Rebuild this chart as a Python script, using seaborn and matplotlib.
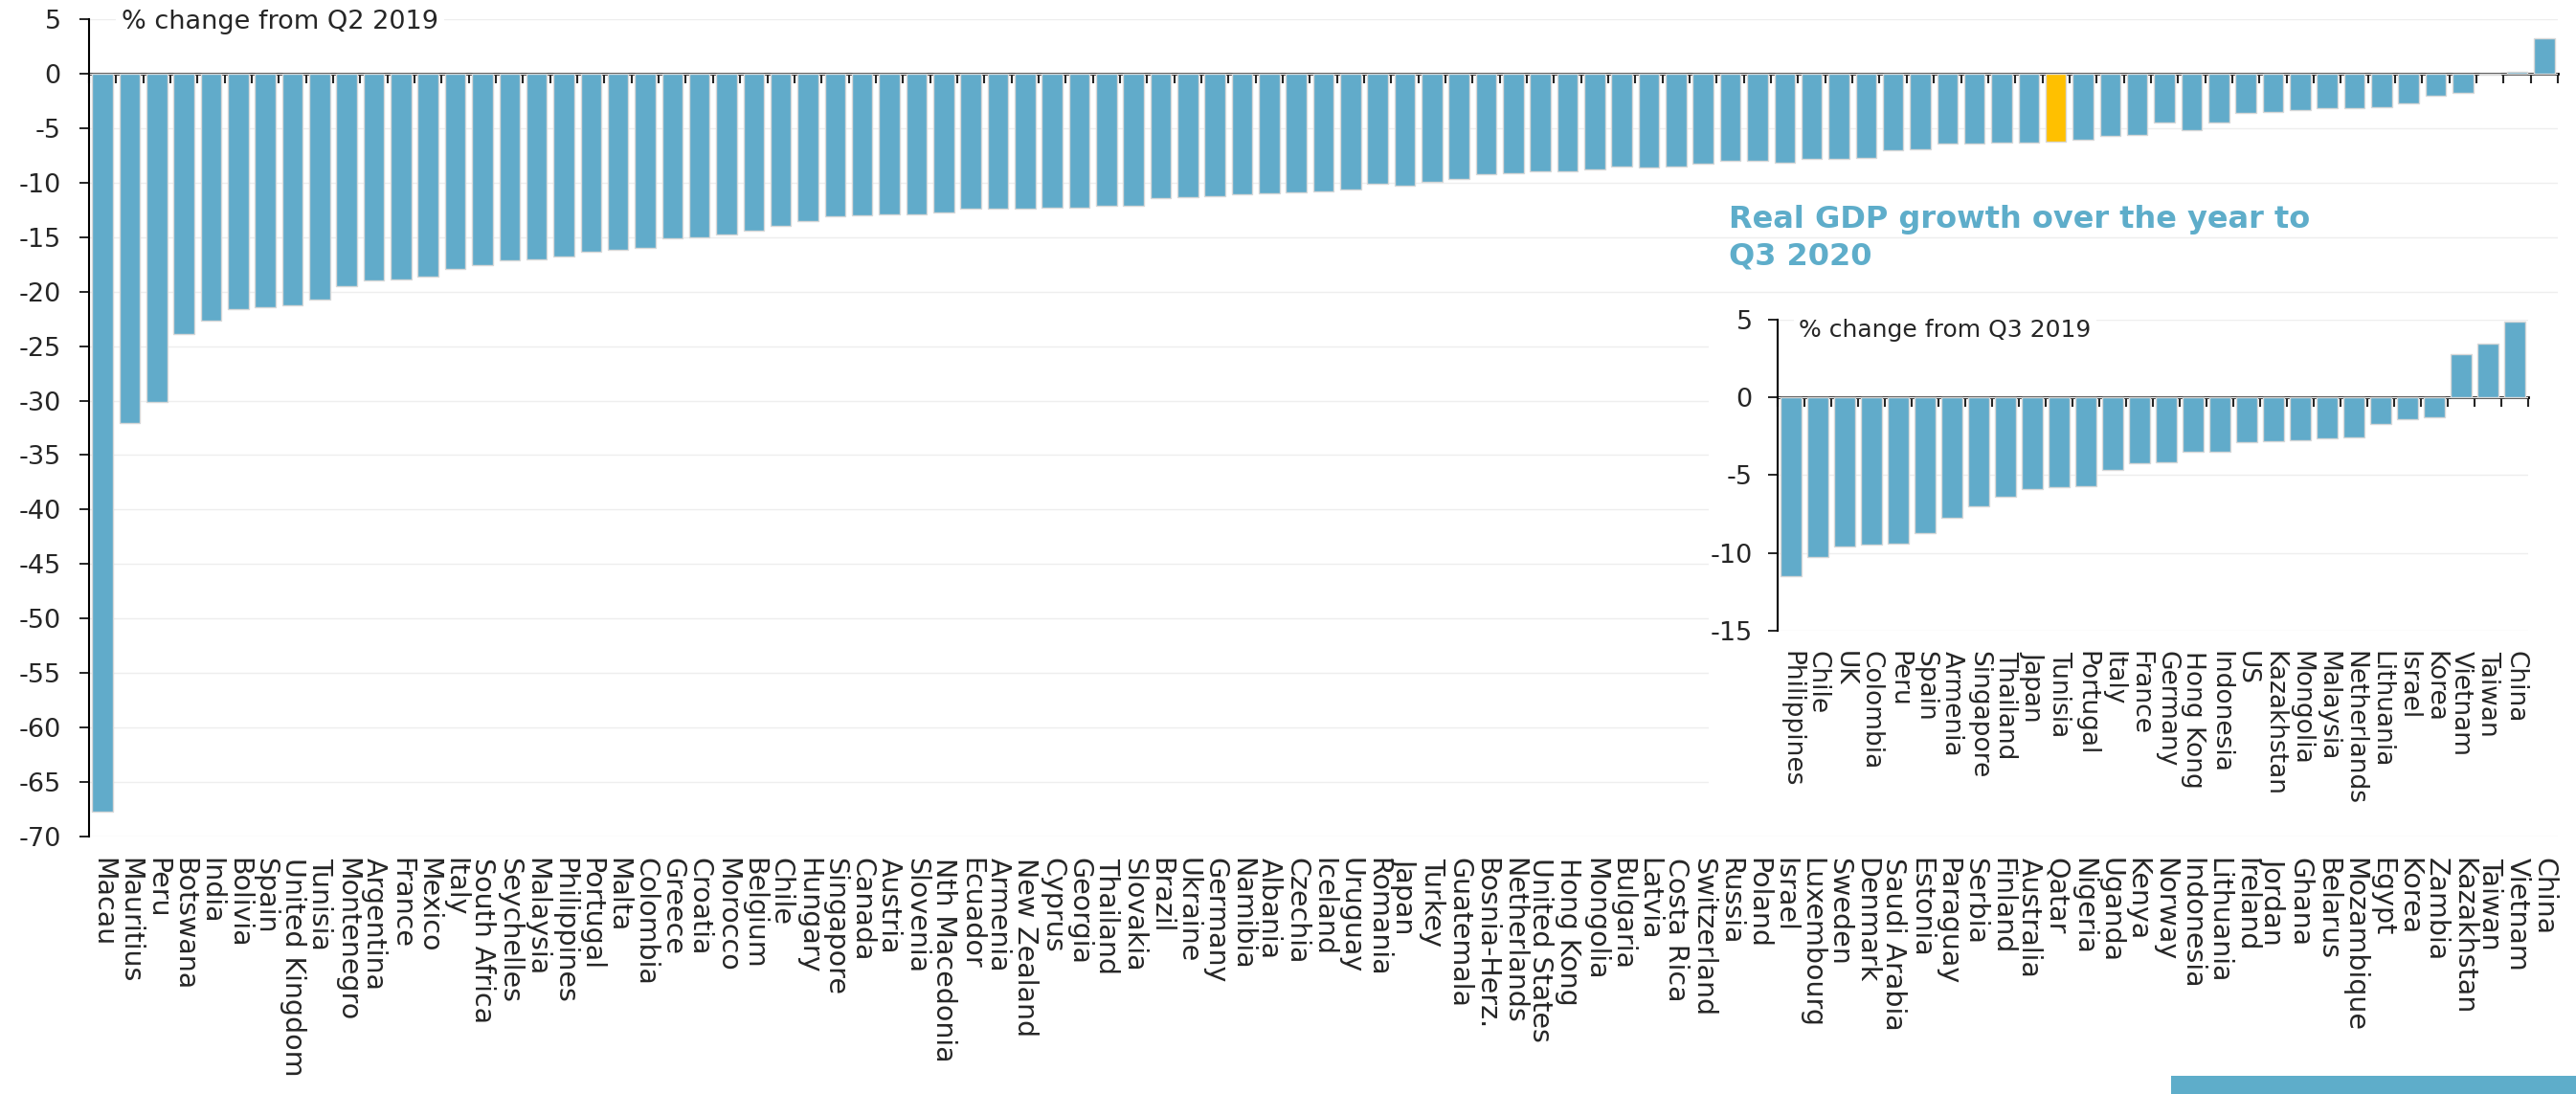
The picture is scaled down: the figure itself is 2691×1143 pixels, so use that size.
import numpy as np
import matplotlib
matplotlib.use("Agg")
import matplotlib.pyplot as plt
from matplotlib.patches import Rectangle
import seaborn as sns

# Real GDP growth over the year to Q2 2020 (% change from Q2 2019)
main_countries = [
    "Macau", "Mauritius", "Peru", "Botswana", "India", "Bolivia", "Spain",
    "United Kingdom", "Tunisia", "Montenegro", "Argentina", "France", "Mexico",
    "Italy", "South Africa", "Seychelles", "Malaysia", "Philippines", "Portugal",
    "Malta", "Colombia", "Greece", "Croatia", "Morocco", "Belgium", "Chile",
    "Hungary", "Singapore", "Canada", "Austria", "Slovenia", "Nth Macedonia",
    "Ecuador", "Armenia", "New Zealand", "Cyprus", "Georgia", "Thailand",
    "Slovakia", "Brazil", "Ukraine", "Germany", "Namibia", "Albania", "Czechia",
    "Iceland", "Uruguay", "Romania", "Japan", "Turkey", "Guatemala",
    "Bosnia-Herz.", "Netherlands", "United States", "Hong Kong", "Mongolia",
    "Bulgaria", "Latvia", "Costa Rica", "Switzerland", "Russia", "Poland",
    "Israel", "Luxembourg", "Sweden", "Denmark", "Saudi Arabia", "Estonia",
    "Paraguay", "Serbia", "Finland", "Australia", "Qatar", "Nigeria", "Uganda",
    "Kenya", "Norway", "Indonesia", "Lithuania", "Ireland", "Jordan", "Ghana",
    "Belarus", "Mozambique", "Egypt", "Korea", "Zambia", "Kazakhstan", "Taiwan",
    "Vietnam", "China",
]
main_values = [
    -67.7, -32.1, -30.1, -23.9, -22.7, -21.6, -21.4,
    -21.3, -20.7, -19.5, -19.0, -18.9, -18.6,
    -17.9, -17.6, -17.1, -17.0, -16.8, -16.3,
    -16.2, -15.95, -15.15, -15.05, -14.8, -14.4, -14.0,
    -13.5, -13.1, -13.0, -12.95, -12.9, -12.7,
    -12.4, -12.4, -12.35, -12.3, -12.3, -12.1,
    -12.1, -11.4, -11.3, -11.25, -11.1, -11.0, -10.9,
    -10.8, -10.6, -10.1, -10.3, -9.9, -9.65,
    -9.2, -9.15, -9.0, -8.95, -8.8,
    -8.5, -8.6, -8.55, -8.3, -8.0, -8.0,
    -8.2, -7.8, -7.8, -7.7, -7.0, -6.9,
    -6.4, -6.4, -6.3, -6.3, -6.2, -6.05, -5.75,
    -5.6, -4.5, -5.2, -4.5, -3.6, -3.5, -3.3,
    -3.2, -3.2, -3.05, -2.7, -2.0, -1.75, -0.1,
    0.2, 3.2,
]
highlight = "Qatar"

# Inset: Real GDP growth over the year to Q3 2020 (% change from Q3 2019)
inset_countries = [
    "Philippines", "Chile", "UK", "Colombia", "Peru", "Spain", "Armenia",
    "Singapore", "Thailand", "Japan", "Tunisia", "Portugal", "Italy", "France",
    "Germany", "Hong Kong", "Indonesia", "US", "Kazakhstan", "Mongolia",
    "Malaysia", "Netherlands", "Lithuania", "Israel", "Korea", "Vietnam",
    "Taiwan", "China",
]
inset_values = [
    -11.5, -10.25, -9.57, -9.47, -9.41, -8.71, -7.73,
    -6.99, -6.39, -5.9, -5.8, -5.7, -4.69, -4.26,
    -4.2, -3.5, -3.5, -2.89, -2.8, -2.73,
    -2.64, -2.54, -1.7, -1.43, -1.27, 2.79,
    3.48, 4.88,
]

BLUE = "#61abca"
GOLD = "#ffc000"
GRID = "#eeeeee"
TITLE_BLUE = "#5eadca"

sns.set_style("white")
plt.rcParams["font.family"] = ["DejaVu Sans"]
plt.rcParams["axes.unicode_minus"] = False

W, H = 2691, 1143
fig = plt.figure(figsize=(W / 100, H / 100), dpi=100)


def fx(px):
    return px / W


def fy(py):
    return 1 - py / H


def style_bar_axes(ax, n, ymin, ymax, label_size, label_pad, ylab_pad):
    ax.set_ylim(ymin, ymax)
    ax.set_yticks(np.arange(ymin, ymax + 1, 5))
    ax.set_xlabel("")
    ax.set_ylabel("")
    for s in ["top", "right", "bottom"]:
        ax.spines[s].set_visible(False)
    ax.spines["left"].set_color("black")
    ax.spines["left"].set_linewidth(1.5)
    ax.yaxis.grid(True, color=GRID, lw=1)
    ax.set_axisbelow(True)
    ax.tick_params(axis="y", direction="out", length=7, width=1.4,
                   labelsize=19.5, pad=ylab_pad, left=True)
    ax.tick_params(axis="x", length=0, labelsize=label_size, pad=label_pad,
                   labelrotation=270)
    for t in ax.get_xticklabels():
        t.set_ha("center")
        t.set_va("top")
    # category-boundary ticks sitting on the zero line
    zero_frac = (0 - ymin) / (ymax - ymin)
    sec = ax.secondary_xaxis(zero_frac)
    sec.set_alignment("bottom")
    sec.set_xticks(np.arange(n + 1) - 0.5, labels=[""] * (n + 1))
    sec.tick_params(axis="x", direction="out", length=7, width=1.5)
    sec.spines["bottom"].set_linewidth(2)
    sec.spines["bottom"].set_color("black")


# ---- main chart ----
ax = fig.add_axes([fx(93), fy(874), fx(2672) - fx(93), fy(20) - fy(874)])
main_colors = [GOLD if c == highlight else BLUE for c in main_countries]
sns.barplot(x=main_countries, y=main_values, hue=main_countries,
            palette=main_colors, legend=False, saturation=1, width=0.76,
            edgecolor="#d8d8d8", linewidth=1, ax=ax)
style_bar_axes(ax, len(main_countries), -70, 5, 20.5, 16, 14)

fig.text(fx(127), fy(30), "% change from Q2 2019", fontsize=19.5,
         va="baseline", ha="left", zorder=5,
         bbox=dict(facecolor="white", edgecolor="none", pad=4))

# white panel behind the inset
fig.patches.append(Rectangle((fx(1785), fy(868)), 1 - fx(1785), fy(312) - fy(868),
                             transform=fig.transFigure, facecolor="white",
                             edgecolor="none", zorder=1))

# ---- inset chart ----
ax2 = fig.add_axes([fx(1857), fy(659), fx(2641) - fx(1857), fy(334) - fy(659)])
ax2.set_zorder(2)
ax2.patch.set_alpha(0)
sns.barplot(x=inset_countries, y=inset_values, hue=inset_countries,
            palette=[BLUE] * len(inset_countries), legend=False, saturation=1,
            width=0.76, edgecolor="#d8d8d8", linewidth=1, ax=ax2)
style_bar_axes(ax2, len(inset_countries), -15, 5, 19, 15, 12)

fig.text(fx(1879), fy(352), "% change from Q3 2019", fontsize=18,
         va="baseline", ha="left", zorder=5,
         bbox=dict(facecolor="white", edgecolor="none", pad=4))

fig.text(fx(1806), fy(214), "Real GDP growth over the year to\nQ3 2020",
         fontsize=23, fontweight="bold", color=TITLE_BLUE, va="top", ha="left",
         linespacing=1.3, zorder=5)

# bottom-right accent bar
fig.patches.append(Rectangle((fx(2268), 0), 1 - fx(2268), 19 / H,
                             transform=fig.transFigure, facecolor=TITLE_BLUE,
                             edgecolor="none", zorder=1))

fig.savefig("out.png", dpi=100, facecolor="white")
